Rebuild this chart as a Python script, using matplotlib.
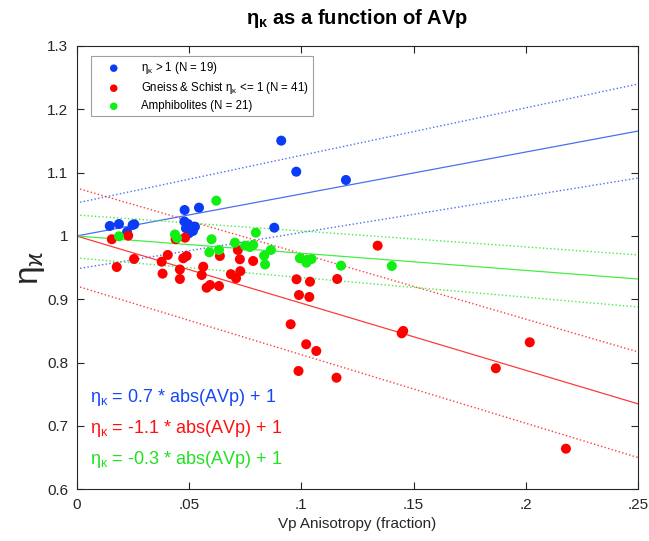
import numpy as np
import matplotlib
matplotlib.use('Agg')
import matplotlib.pyplot as plt

plt.rcParams['font.family'] = ['Liberation Sans', 'DejaVu Sans']
plt.rcParams['mathtext.fontset'] = 'custom'
plt.rcParams['mathtext.rm'] = 'Liberation Sans'
plt.rcParams['mathtext.it'] = 'Liberation Sans:italic'
plt.rcParams['mathtext.bf'] = 'Liberation Sans:bold'

# datos
azul_x = [0.0148, 0.0189, 0.0250, 0.0257, 0.0225, 0.0481, 0.0545, 0.0480, 0.0487, 0.0505,
          0.0514, 0.0527, 0.0500, 0.0496, 0.0518, 0.0880, 0.0911, 0.0978, 0.1199]
azul_y = [1.0158, 1.0189, 1.0174, 1.0185, 1.0063, 1.0410, 1.0447, 1.0229, 1.0121, 1.0095,
          1.0142, 1.0147, 1.0042, 1.0189, 1.0079, 1.0131, 1.1505, 1.1015, 1.0884]

rojo_x = [0.0157, 0.0230, 0.0441, 0.0483, 0.0256, 0.0179, 0.0379, 0.0406, 0.0475, 0.0490,
          0.0383, 0.0460, 0.0460, 0.0638, 0.0718, 0.0727, 0.0786, 0.0564, 0.0557, 0.0687,
          0.0729, 0.0594, 0.0579, 0.0634, 0.0710, 0.0979, 0.1039, 0.0990, 0.1036, 0.1160,
          0.1340, 0.0953, 0.1022, 0.1067, 0.0988, 0.1157, 0.1447, 0.1454, 0.2017, 0.1866,
          0.2178]
rojo_y = [0.9948, 1.0005, 0.9948, 0.9973, 0.9637, 0.9510, 0.9594, 0.9700, 0.9648, 0.9684,
          0.9405, 0.9471, 0.9321, 0.9684, 0.9779, 0.9632, 0.9605, 0.9515, 0.9384, 0.9397,
          0.9444, 0.9226, 0.9183, 0.9210, 0.9332, 0.9316, 0.9278, 0.9068, 0.9037, 0.9321,
          0.9847, 0.8606, 0.8290, 0.8184, 0.7868, 0.7762, 0.8463, 0.8500, 0.8321, 0.7911,
          0.6641]

verde_x = [0.0189, 0.0438, 0.0447, 0.0622, 0.0601, 0.0798, 0.0750, 0.0772, 0.0786, 0.0705,
           0.0591, 0.0634, 0.0835, 0.0839, 0.0865, 0.0994, 0.1023, 0.1046, 0.1024, 0.1177,
           0.1403]
verde_y = [0.9995, 1.0024, 0.9968, 1.0557, 0.9948, 1.0052, 0.9847, 0.9826, 0.9858, 0.9894,
           0.9742, 0.9779, 0.9689, 0.9550, 0.9779, 0.9648, 0.9578, 0.9637, 0.9621, 0.9531,
           0.9526]

# rectas: (ordenada, pendiente) para ajuste, banda superior, banda inferior
azul_rectas = [(1.0, 0.663), (1.052, 0.752), (0.948, 0.574)]
rojo_rectas = [(1.0, -1.061), (1.0758, -1.036), (0.921, -1.084)]
verde_rectas = [(1.0, -0.272), (1.0331, -0.252), (0.9653, -0.310)]

etiquetas = [r'$\mathrm{\eta_\kappa}$ > 1 (N = 19)',
             r'Gneiss & Schist $\mathrm{\eta_\kappa}$ <= 1 (N = 41)',
             'Amphibolites (N = 21)']
ecuaciones = [r'$\mathrm{\eta_\kappa}$ = 0.7 * abs(AVp) + 1',
              r'$\mathrm{\eta_\kappa}$ = -1.1 * abs(AVp) + 1',
              r'$\mathrm{\eta_\kappa}$ = -0.3 * abs(AVp) + 1']

c_azul = '#0a3cf5'
c_rojo = '#ff0000'
c_verde = '#11ee11'
l_azul = '#4a70f0'
l_rojo = '#ff3b3b'
l_verde = '#44ee44'
gris = '#262626'

fig = plt.figure(figsize=(6.49, 5.41), dpi=100)
ax = fig.add_axes([0.1179, 0.0956, 0.8656, 0.8194])

xs = np.array([0, 0.25])
for rectas, col in [(azul_rectas, l_azul), (rojo_rectas, l_rojo), (verde_rectas, l_verde)]:
    b, m = rectas[0]
    ax.plot(xs, b + m * xs, '-', color=col, lw=0.9)
    for b, m in rectas[1:]:
        ax.plot(xs, b + m * xs, ':', color=col, lw=1.0)

ax.scatter(azul_x, azul_y, s=52, color=c_azul, edgecolors='none', label=etiquetas[0], zorder=3)
ax.scatter(rojo_x, rojo_y, s=52, color=c_rojo, edgecolors='none', label=etiquetas[1], zorder=3)
ax.scatter(verde_x, verde_y, s=52, color=c_verde, edgecolors='none', label=etiquetas[2], zorder=3)

ax.set_xlim(0, 0.25)
ax.set_ylim(0.6, 1.3)
ax.set_xticks([0, 0.05, 0.1, 0.15, 0.2, 0.25])
ax.set_xticklabels(['0', '.05', '.1', '.15', '.2', '.25'])
ax.set_yticks([0.6, 0.7, 0.8, 0.9, 1.0, 1.1, 1.2, 1.3])
ax.set_yticklabels(['0.6', '0.7', '0.8', '0.9', '1', '1.1', '1.2', '1.3'])
ax.tick_params(direction='in', length=5, width=0.8, labelsize=11, colors=gris,
               top=True, right=True, pad=6)
for s in ax.spines.values():
    s.set_color(gris)
    s.set_linewidth(0.8)

ax.set_xlabel('Vp Anisotropy (fraction)', fontsize=11, color=gris, labelpad=4)
ax.set_ylabel(r'$\mathrm{\eta_\varkappa}$', fontsize=24, color=gris, labelpad=0)
ax.set_title(r'$\mathbf{\eta_\kappa}$ as a function of AVp', fontsize=14.5, fontweight='bold', pad=16)

leg = ax.legend(loc='upper left', bbox_to_anchor=(0.016, 0.99), fontsize=8.3, frameon=True,
                fancybox=False, edgecolor='#888888', markerscale=0.75, handletextpad=0.8,
                borderpad=0.35, labelspacing=0.35, handlelength=3.2)
leg.get_frame().set_linewidth(0.8)

for i, (txt, col) in enumerate(zip(ecuaciones, ['#1448f5', '#ff1010', '#22e022'])):
    ax.text(0.006, 0.745 - i * 0.049, txt, color=col, fontsize=13, va='center', ha='left')

fig.savefig('out.png', dpi=100)
